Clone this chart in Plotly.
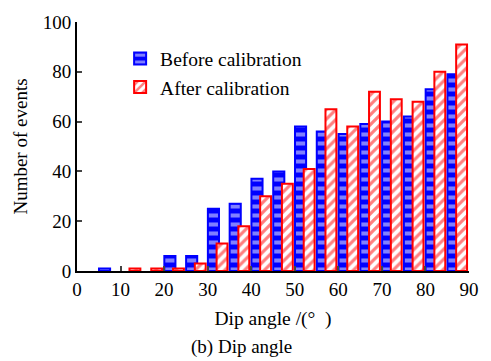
import plotly.graph_objects as go

# Dip-angle histogram, 5-degree bins
bin_start = [0, 5, 10, 15, 20, 25, 30, 35, 40, 45, 50, 55, 60, 65, 70, 75, 80, 85]
before = [0, 1, 0, 0, 6, 6, 25, 27, 37, 40, 58, 56, 55, 59, 60, 62, 73, 79]
after = [0, 0, 1, 1, 1, 3, 11, 18, 30, 35, 41, 65, 58, 72, 69, 68, 80, 91]

x_ticks = [0, 10, 20, 30, 40, 50, 60, 70, 80, 90]
y_ticks = [0, 20, 40, 60, 80, 100]

font = "Liberation Serif"


def nonzero(vals):
    # empty bins get no bar (avoids a stray outline on the axis)
    return [v if v > 0 else None for v in vals]


fig = go.Figure()
fig.add_trace(go.Bar(
    x=bin_start, y=nonzero(before), name="Before calibration",
    offset=0.05, width=2.55,
    marker=dict(
        color="#0000ff",
        line=dict(color="#0000ff", width=2),
        pattern=dict(shape="-", fgcolor="white", bgcolor="#0000ff",
                     size=9, solidity=0.45, fillmode="overlay"),
    ),
))
fig.add_trace(go.Bar(
    x=bin_start, y=nonzero(after), name="After calibration",
    offset=2.05, width=2.5,
    marker=dict(
        color="white",
        line=dict(color="#ff0000", width=2),
        pattern=dict(shape="/", fgcolor="#ff0000", bgcolor="white",
                     size=7, solidity=0.45, fillmode="overlay"),
    ),
))

fig.update_layout(
    width=491, height=361,
    margin=dict(l=77, r=14, t=16, b=90),
    paper_bgcolor="white", plot_bgcolor="white",
    font=dict(family=font, size=19, color="black"),
    barmode="overlay",
    showlegend=True,
    legend=dict(x=0.11, y=0.93, xanchor="left", yanchor="top",
                bgcolor="rgba(0,0,0,0)", font=dict(family=font, size=19.5),
                itemwidth=30, tracegroupgap=0),
    xaxis=dict(range=[0, 90], tickvals=x_ticks, ticks="inside", ticklen=5,
               tickwidth=2, showline=True, linecolor="black", linewidth=2,
               showgrid=False, zeroline=False,
               tickfont=dict(family=font, size=19),
               title=dict(text="Dip angle /(°\u2002)", standoff=13,
                          font=dict(family=font, size=19.5))),
    yaxis=dict(range=[0, 100], tickvals=y_ticks, ticks="inside", ticklen=5,
               tickwidth=2, showline=True, linecolor="black", linewidth=2,
               showgrid=False, zeroline=False,
               tickfont=dict(family=font, size=19),
               title=dict(text="Number of events", standoff=10,
                          font=dict(family=font, size=19))),
    annotations=[dict(text="(b) Dip angle", xref="paper", yref="paper",
                      x=0.42, y=-0.255, xanchor="center", yanchor="top",
                      showarrow=False, font=dict(family=font, size=19))],
)

fig.write_html("out.html")
